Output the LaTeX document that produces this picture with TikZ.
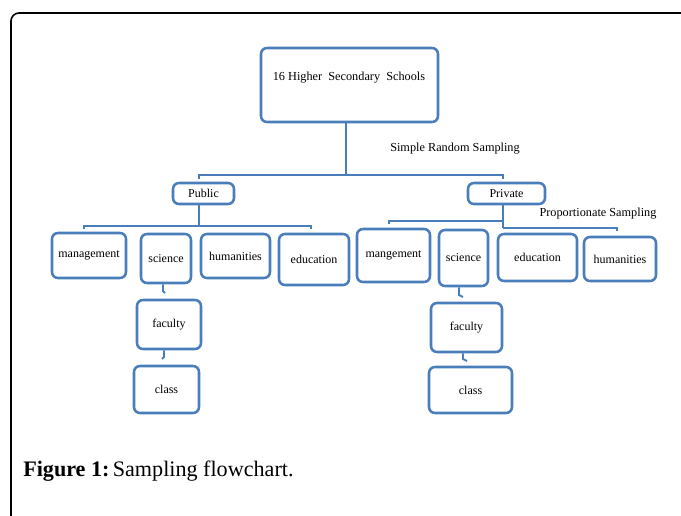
\documentclass[tikz,border=0pt]{standalone}
\usepackage{fontspec}
\setmainfont{Liberation Serif}
\definecolor{boxblue}{HTML}{4A7EBB}
\newcommand\pbox[6]{\node[bx, minimum width={(#4-#2-2)*0.75pt}, minimum height={(#5-#3-2)*0.75pt}] (#1) at ({(#2+#4)/2},{(#3+#5)/2}) {#6};}
\begin{document}
\begin{tikzpicture}[x=0.75pt,y=-0.75pt,
  bx/.style={draw=boxblue, line width=1.9pt, rounded corners=4.5pt, inner sep=0pt, font=\fontsize{9}{10}\selectfont},
  conn/.style={draw=boxblue, line width=1.8pt},
  stub/.style={draw=boxblue, line width=1.4pt},
  lbl/.style={font=\fontsize{9.2}{10}\selectfont, inner sep=0pt}]
\useasboundingbox (0,0) rectangle (681,516);
\draw[line width=1.2pt, rounded corners=6pt] (11,516) |- (681,13);
% boxes
\pbox{top}{260}{47}{439}{123}{}
\node[lbl] (toptext) at (349,78) {16 Higher\ \ Secondary\ \ Schools};
\pbox{pub}{172}{182}{235}{205}{Public}
\pbox{pri}{467}{182}{546}{205}{Private}
\pbox{man}{51}{232}{127}{279}{management}
\pbox{sci}{140}{233}{192}{284}{science}
\pbox{hum}{200}{233}{271}{279}{humanities}
\pbox{edu}{278}{233}{350}{286}{education}
\pbox{fac}{136}{299}{202}{350}{faculty}
\pbox{cls}{133}{365}{200}{414}{class}
\pbox{mang}{356}{228}{431}{283}{mangement}
\pbox{sciB}{438}{229}{489}{287}{science}
\pbox{eduB}{497}{233}{578}{282}{education}
\pbox{humB}{583}{236}{657}{282}{humanities}
\pbox{facB}{430}{302}{503}{353}{faculty}
\pbox{clsB}{428}{366}{513}{414}{class}
% labels
\node[lbl] (srs) at (455,149) {Simple\ Random\ Sampling};
\node[lbl] (ps) at (598,214) {Proportionate Sampling};
\node[anchor=base west, inner sep=0pt, font=\fontsize{16.6}{20}\selectfont] (cap) at (23,476) {\textbf{Figure 1:}\hspace{0.15em}Sampling flowchart.};
% top connectors
\coordinate (j0) at (346,175);
\coordinate (busL) at (199,175);
\coordinate (busR) at (503,175);
\coordinate (busLt) at (199,179);
\coordinate (busRt) at (503,179);
\draw[conn, line width=2.2pt] (top.south -| j0) -- (j0);
\draw[conn] (busLt) -- (busL) -- (busR) -- (busRt);
% public connectors
\coordinate (pj) at (199,226);
\coordinate (pl) at (84,226);
\coordinate (plt) at (84,229);
\coordinate (pr) at (311,226);
\coordinate (prt) at (311,229);
\draw[conn] (pub.south -| pj) -- (pj);
\draw[conn] (plt) -- (pl) -- (pr) -- (prt);
% private connectors
\coordinate (qj1) at (503,221);
\coordinate (qj2) at (503,228);
\coordinate (ql) at (389,221);
\coordinate (qlt) at (389,224);
\coordinate (qr) at (617,228);
\coordinate (qrt) at (617,231);
\draw[conn] (pri.south -| qj1) -- (qj2);
\draw[conn] (qlt) -- (ql) -- (qj1);
\draw[conn] (qj2) -- (qr) -- (qrt);
% stubs
\coordinate (s1) at (163,291);
\coordinate (s1e) at (165,293);
\draw[stub] (sci.south -| s1) -- (s1) -- (s1e);
\coordinate (s2) at (164,357);
\coordinate (s2e) at (162,359);
\draw[stub] (fac.south -| s2) -- (s2) -- (s2e);
\coordinate (s3) at (459,295);
\coordinate (s3e) at (463,297);
\draw[stub] (sciB.south -| s3) -- (s3) -- (s3e);
\coordinate (s4) at (463,359);
\coordinate (s4e) at (467,361);
\draw[stub] (facB.south -| s4) -- (s4) -- (s4e);
\end{tikzpicture}
\end{document}
